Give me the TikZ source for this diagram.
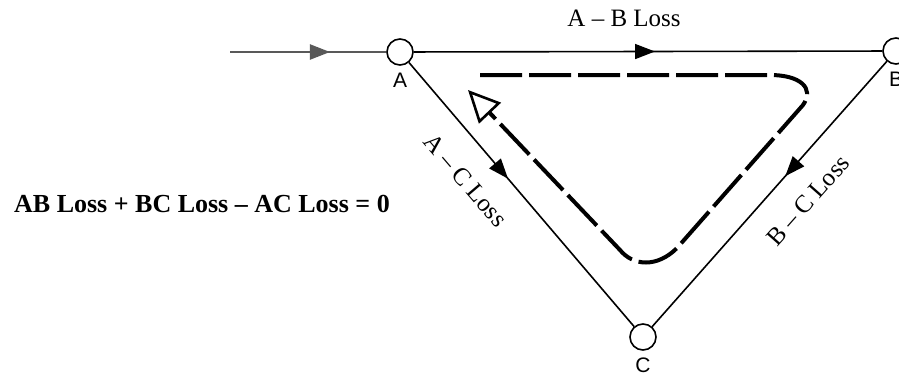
\documentclass[tikz,border=0pt]{standalone}
\usepackage{fontspec}
\setmainfont{Liberation Serif}
\newfontfamily\labelfont{Liberation Sans}
\usetikzlibrary{arrows.meta, decorations.markings}

\tikzset{
  junction/.style={circle, draw, line width=0.8pt, minimum size=13pt, inner sep=0pt, fill=white},
  nodename/.style={font=\labelfont\fontsize{10.5}{12}\selectfont},
  branch/.style={line width=0.8pt},
  midarrow/.style={postaction={decorate}, decoration={markings,
    mark=at position #1 with {\arrow{Triangle[length=10pt, width=7.5pt]}}}},
  losslabel/.style={font=\fontsize{12.5}{15}\selectfont, inner sep=0pt, sloped},
  circulation/.style={line width=2pt, dash pattern=on 21pt off 3.5pt},
}

\begin{document}
\begin{tikzpicture}[x=0.5pt, y=-0.5pt]
  \useasboundingbox (0,0) rectangle (899,375);
  % junctions of the loop
  \node[junction, label={[nodename]below:A}] (A) at (400,52) {};
  \node[junction, label={[nodename]below:B}] (B) at (896,51) {};
  \node[junction, label={[nodename]below:C}] (C) at (643,337) {};
  \coordinate (in) at (230,52);
  % branches with losses
  \draw[gray!70!black, line width=1.1pt, midarrow=0.64] (in) -- (A);
  \draw[branch, midarrow=0.515] (A) -- node[losslabel, above=12pt, pos=0.449] {A – B Loss} (B);
  \draw[branch, midarrow=0.44] (A) -- node[losslabel, below=12pt, pos=0.365] {A – C Loss} (C);
  \draw[branch, midarrow=0.433] (B) -- node[losslabel, below=12pt, pos=0.442] {B – C Loss} (C);
  % loop direction
  \draw[circulation, -{Triangle[open, length=16pt, width=15pt, line width=1.3pt]}]
    (480,75) -- (770,75) .. controls (800,75) and (815,88) .. (803,105)
    -- (677,248) .. controls (657,268) and (633,266) .. (620,250) -- (468,90);
  \node[font=\bfseries\fontsize{13}{15}\selectfont] (eq) at (202,204) {AB Loss + BC Loss – AC Loss = 0};
\end{tikzpicture}
\end{document}
